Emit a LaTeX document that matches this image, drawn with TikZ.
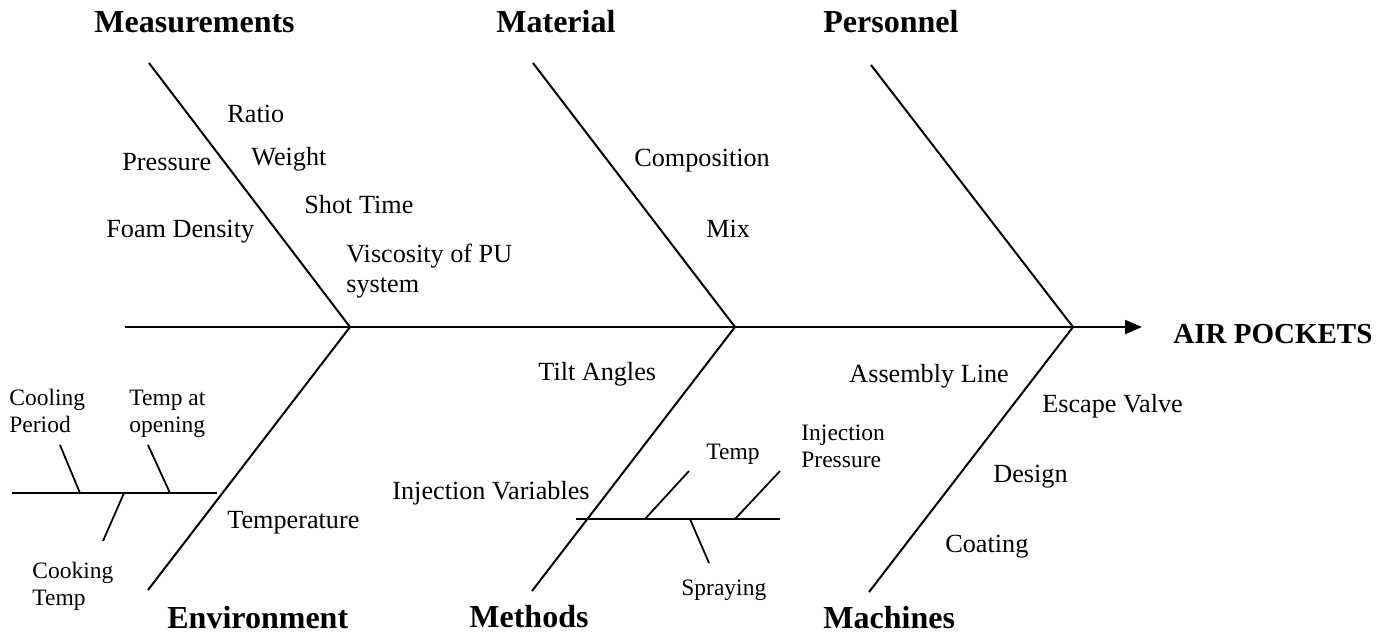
\documentclass[tikz,border=0pt]{standalone}
\usepackage{fontspec}
\setmainfont{Liberation Serif}
\usetikzlibrary{arrows.meta}
\tikzset{
  bone/.style={line width=1pt},
  twig/.style={line width=0.9pt},
  category/.style={font=\fontsize{16}{19}\selectfont\bfseries, anchor=base west, inner sep=0pt},
  cause/.style={font=\fontsize{13.1}{15}\selectfont, anchor=base west, inner sep=0pt, align=left},
  subcause/.style={font=\fontsize{11.75}{13.5}\selectfont, anchor=base west, inner sep=0pt, align=left}
}
\begin{document}
\begin{tikzpicture}[x=0.5pt,y=-0.5pt]
\useasboundingbox (0,0) rectangle (1391,639);
% spine and junctions
\coordinate (tail) at (125,327);
\coordinate (head) at (1142,327);
\coordinate (jmeas) at (350,327);
\coordinate (jmat) at (735,327);
\coordinate (jpers) at (1073,327);
\draw[bone,-{Triangle[length=8.5pt,width=7pt]}] (tail) -- (head);
\node[font=\fontsize{14.5}{17}\selectfont\bfseries, anchor=base west, inner sep=0pt] (effect) at (1173,343) {AIR POCKETS};
% upper bones
\coordinate (meas) at (149,63);
\coordinate (mat) at (533,63);
\coordinate (pers) at (871,65);
\draw[bone] (meas) -- (jmeas);
\draw[bone] (mat) -- (jmat);
\draw[bone] (pers) -- (jpers);
% lower bones
\coordinate (env) at (148,590);
\coordinate (meth) at (532,591);
\coordinate (mach) at (869,592);
\draw[bone] (jmeas) -- (env);
\draw[bone] (jmat) -- (meth);
\draw[bone] (jpers) -- (mach);
% categories
\node[category] (measurements) at (94,32) {Measurements};
\node[category] (material) at (496,32) {Material};
\node[category] (personnel) at (823,32) {Personnel};
\node[category] (environment) at (167,628) {Environment};
\node[category] (methods) at (469,627) {Methods};
\node[category] (machines) at (823,628) {Machines};
% measurements (multi-line nodes sit on their last baseline)
\node[cause] (ratio) at (227,122) {Ratio};
\node[cause] (pressure) at (122,170) {Pressure};
\node[cause] (weight) at (251,165) {Weight};
\node[cause] (shot) at (304,213) {Shot Time};
\node[cause] (foam) at (106,237) {Foam Density};
\node[cause] (visc) at (346,292) {Viscosity of PU\\system};
% material
\node[cause] (comp) at (634,166) {Composition};
\node[cause] (mix) at (706,237) {Mix};
% machines
\node[cause] (assembly) at (849,382) {Assembly Line};
\node[cause] (valve) at (1042,412) {Escape Valve};
\node[cause] (design) at (993,482) {Design};
\node[cause] (coating) at (945,552) {Coating};
% environment
\coordinate (templ) at (12,493);
\coordinate (tempr) at (217,493);
\draw[twig] (templ) -- (tempr);
\draw[twig] (60,445) -- (80,493);
\draw[twig] (148,445) -- (170,493);
\draw[twig] (124,493) -- (103,541);
\node[cause] (temperature) at (227,528) {Temperature};
\node[subcause] (cooling) at (9,432) {Cooling\\Period};
\node[subcause] (opening) at (129,432) {Temp at\\opening};
\node[subcause] (cooking) at (32,605) {Cooking\\Temp};
% methods
\coordinate (injl) at (576,519);
\coordinate (injr) at (780,519);
\draw[twig] (injl) -- (injr);
\draw[twig] (645,519) -- (689,471);
\draw[twig] (735,519) -- (780,471);
\draw[twig] (690,519) -- (709,563);
\node[cause] (tilt) at (538,380) {Tilt Angles};
\node[cause] (injvar) at (392,499) {Injection Variables};
\node[subcause] (injtemp) at (706,459) {Temp};
\node[subcause] (injpress) at (801,467) {Injection\\Pressure};
\node[subcause] (spraying) at (681,595) {Spraying};
\end{tikzpicture}
\end{document}
